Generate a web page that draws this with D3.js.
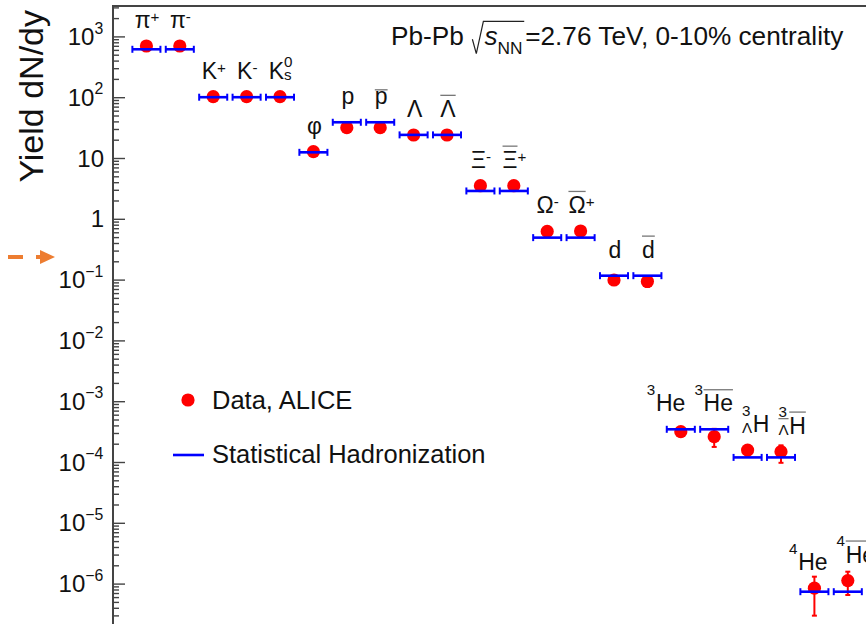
<!DOCTYPE html>
<html><head><meta charset="utf-8">
<script src="https://cdn.jsdelivr.net/npm/d3@7"></script>
<style>
body{margin:0;background:#fff}
svg{display:block}
text{font-family:"Liberation Sans",Arial,Helvetica,sans-serif;fill:#111;white-space:pre}
</style>
</head><body>
<svg id="c" width="866" height="624"></svg>
<script>
// ---------- data ----------
const particles = ["π^{+}","π^{-}","K^{+}","K^{-}","K^{0}_{s}","φ","p","#bar{p}","Λ","#bar{Λ}",
  "Ξ^{-}","#bar{Ξ}^{+}","Ω^{-}","#bar{Ω}^{+}","d","#bar{d}","^{3}He","^{3}#bar{He}",
  "^{3}_{Λ}H","^{3}_{#bar{Λ}}#bar{H}","^{4}He","^{4}#bar{He}"];
const dataYield = [695,695,102,102,102,12.7,31.5,31.5,23.9,23.9,3.5,3.5,0.62,0.63,0.0985,0.093,
  3.15e-4,2.61e-4,1.57e-4,1.48e-4,8.4e-7,1.12e-6];
const dataErrUp = [40,40,8,8,8,1.5,2.5,2.5,2.5,2.5,0.3,0.3,0.07,0.07,0.017,0.017,
  0.45e-4,0.9e-4,0.3e-4,0.4e-4,4.6e-7,4.5e-7];
const dataErrDown = [40,40,8,8,8,1.5,2.5,2.5,2.5,2.5,0.3,0.3,0.07,0.07,0.017,0.017,
  0.4e-4,0.84e-4,0.3e-4,0.51e-4,5.43e-7,4.7e-7];
const modelYield = [614,614,100,100,100,12.4,38.7,38.7,24,24,2.87,2.87,0.49,0.49,0.116,0.116,
  3.45e-4,3.45e-4,1.19e-4,1.19e-4,7.36e-7,7.36e-7];
const yTickValues = [1e3,1e2,10,1,1e-1,1e-2,1e-3,1e-4,1e-5,1e-6];
const yTickLabels = ["10^{3}","10^{2}","10","1","10^{−1}","10^{−2}","10^{−3}","10^{−4}","10^{−5}","10^{−6}"];
const legendLabels = ["Data, ALICE","Statistical Hadronization"];
const titleText = "Pb-Pb #sqrt{#it{s}_{NN}}=2.76 TeV, 0-10% centrality";
const yTitle = "Yield dN/dy";

// ---------- mini latex ----------
function parse(s){
  let i=0;
  function group(){
    const out=[]; let buf='';
    const flush=()=>{ if(buf){out.push({k:'t',s:buf}); buf='';} };
    while(i<s.length){
      const c=s[i];
      if(c==='}'){ i++; break; }
      if(c==='^'||c==='_'){ flush(); i+=2; out.push({k:c==='^'?'sup':'sub', c:group()}); continue; }
      if(c==='#'){ const m=s.slice(i).match(/^#(\w+)\{/); flush(); i+=m[0].length; out.push({k:m[1], c:group()}); continue; }
      buf+=c; i++;
    }
    flush(); return out;
  }
  return group();
}
function plain(items){ return items.map(d=>d.k==='t'?d.s:plain(d.c)).join(''); }
function draw(g, items, x, y, fs, italic){
  let cx=x;
  for(let j=0;j<items.length;j++){
    const it=items[j];
    if(it.k==='t'){
      const t=g.append('text').attr('x',cx).attr('y',y).style('font-size',fs+'px').text(it.s);
      if(italic) t.style('font-style','italic');
      cx+=t.node().getComputedTextLength();
    } else if(it.k==='it'){
      cx+=draw(g,it.c,cx,y,fs,true);
    } else if(it.k==='sup'||it.k==='sub'){
      const sfs=fs*0.66;
      const prefix=(j===0);
      const nx=items[j+1];
      const stacked = nx && (nx.k==='sup'||nx.k==='sub') && nx.k!==it.k;
      const raise = t => prefix ? fs*0.72 : (stacked ? fs*0.52 : (/^[+\-−]$/.test(t) ? fs*0.26 : fs*0.48));
      const drop = (stacked||prefix) ? fs*0.04 : fs*0.36;
      const pos = (k,t) => k==='sup' ? y-raise(t) : y+drop;
      let w=draw(g,it.c,cx,pos(it.k,plain(it.c)),sfs,italic);
      if(stacked){
        w=Math.max(w, draw(g,nx.c,cx,pos(nx.k,plain(nx.c)),sfs,italic)); j++;
      }
      cx+=w+fs*0.03;
    } else if(it.k==='bar'){
      const w=draw(g,it.c,cx,y,fs,italic);
      const txt=plain(it.c);
      const h = /^[acemnorsuvwxzpqgy]+$/.test(txt) ? fs*0.52+2.5 : fs*0.72+5;
      g.append('line').attr('x1',cx).attr('x2',cx+w).attr('y1',y-h).attr('y2',y-h)
        .attr('stroke','#777').attr('stroke-width',1.3);
      cx+=w;
    } else if(it.k==='sqrt'){
      const rw=fs*0.42;
      const x0=cx+fs*0.05;
      cx=x0+rw;
      const w=draw(g,it.c,cx+1,y,fs,italic);
      g.append('path').attr('d',`M${x0},${y-fs*0.22}L${x0+fs*0.15},${y+fs*0.33}L${x0+rw},${y-fs*0.9}H${cx+w+2}`)
        .attr('fill','none').attr('stroke','#222').attr('stroke-width',1.2);
      cx+=w+3;
    }
  }
  return cx-x;
}

// ---------- chart ----------
const svg=d3.select('#c');
const X0=113, TOP=6, DEC=60.8;
const x=d3.scaleLinear().domain([0,23]).range([X0, X0+33.4*23]);
const y=d3.scaleLog().domain([Math.pow(10,3.5),1e-7]).range([TOP, TOP+DEC*10.5]);

const minorVals=[];
for(let e=-7;e<=3;e++) for(let k=2;k<=9;k++){ const v=k*Math.pow(10,e); if(v<=Math.pow(10,3.5)) minorVals.push(v); }

const gMin=svg.append('g').attr('transform',`translate(${X0},0)`)
  .call(d3.axisLeft(y).tickValues(minorVals).tickSize(-6).tickFormat(''));
const gMaj=svg.append('g').attr('transform',`translate(${X0},0)`)
  .call(d3.axisLeft(y).tickValues(yTickValues.concat([1e-7])).tickSize(-12).tickFormat(''));
[gMin,gMaj].forEach(g=>{ g.select('.domain').remove(); g.selectAll('line').attr('stroke','#444').attr('stroke-width',1.4); });

svg.append('path').attr('d',`M${X0},${640}V${TOP}H${880}`).attr('fill','none').attr('stroke','#444').attr('stroke-width',2);

// tick labels
yTickValues.forEach((v,i)=>{
  const g=svg.append('g');
  const fs=24;
  const w=draw(g,parse(yTickLabels[i]),0,y(v)+fs*0.36,fs);
  g.attr('transform',`translate(${104-w},0)`);
});

// y title
svg.append('text').attr('transform',`translate(43,10) rotate(-90)`).attr('text-anchor','end')
  .style('font-size','34px').text(yTitle);

// data error bars
const idx=d3.range(particles.length);
const eb=svg.append('g').attr('stroke','#ff0000').attr('stroke-width',2);
idx.forEach(i=>{
  const cx=x(i+1), y1=y(dataYield[i]+dataErrUp[i]), y2=y(dataYield[i]-dataErrDown[i]);
  eb.append('line').attr('x1',cx).attr('x2',cx).attr('y1',y1).attr('y2',y2);
  eb.append('line').attr('x1',cx-2.5).attr('x2',cx+2.5).attr('y1',y1).attr('y2',y1);
  eb.append('line').attr('x1',cx-2.5).attr('x2',cx+2.5).attr('y1',y2).attr('y2',y2);
});
svg.append('g').selectAll('circle').data(idx).join('circle')
  .attr('cx',i=>x(i+1)).attr('cy',i=>y(dataYield[i])).attr('r',6.6).attr('fill','#ff0000');

// model lines
const ml=svg.append('g').attr('stroke','#0000ff').attr('stroke-width',2.6);
idx.forEach(i=>{
  const x1=x(i+1-0.42), x2=x(i+1+0.42), yy=y(modelYield[i]);
  ml.append('line').attr('x1',x1).attr('x2',x2).attr('y1',yy).attr('y2',yy);
  ml.append('line').attr('x1',x1).attr('x2',x1).attr('y1',yy-3.5).attr('y2',yy+3.5).attr('stroke-width',2);
  ml.append('line').attr('x1',x2).attr('x2',x2).attr('y1',yy-3.5).attr('y2',yy+3.5).attr('stroke-width',2);
});

// particle labels with iterative collision relaxation
const lab=idx.map(i=>{
  const g=svg.append('g');
  const base=Math.min(y(dataYield[i]),y(modelYield[i]))-18;
  const w=draw(g,parse(particles[i]),0,base,23);
  const bb=g.node().getBBox();
  return {g, w, left:x(i+1)+1-w/2, top:bb.y, bot:bb.y+bb.height};
});
for(let pass=0;pass<40;pass++){
  for(let i=1;i<lab.length;i++){
    const a=lab[i-1], b=lab[i];
    const ov=a.left+a.w+9-b.left;
    if(ov>0.01 && a.bot>b.top+2 && b.bot>a.top+2){ a.left-=ov/2; b.left+=ov/2; }
  }
}
lab.forEach(l=>l.g.attr('transform',`translate(${l.left},0)`));

// title
{
  const g=svg.append('g');
  draw(g,parse(titleText),0,45,26.2);
  g.attr('transform',`translate(${391},0)`);
}

// legend
svg.append('circle').attr('cx',188).attr('cy',400).attr('r',6.6).attr('fill','#ff0000');
svg.append('text').attr('x',212).attr('y',409).style('font-size','25.5px').text(legendLabels[0]);
svg.append('line').attr('x1',173).attr('x2',204).attr('y1',455).attr('y2',455).attr('stroke','#0000ff').attr('stroke-width',2.6);
svg.append('text').attr('x',212).attr('y',463).style('font-size','25.5px').text(legendLabels[1]);

// orange annotation arrow
const oc='#ed7d31';
svg.append('line').attr('x1',8).attr('x2',23).attr('y1',257).attr('y2',257).attr('stroke',oc).attr('stroke-width',4);
svg.append('line').attr('x1',36).attr('x2',43).attr('y1',257).attr('y2',257).attr('stroke',oc).attr('stroke-width',4);
svg.append('path').attr('d','M40,250L55,257L40,264Z').attr('fill',oc);
</script>
</body></html>
